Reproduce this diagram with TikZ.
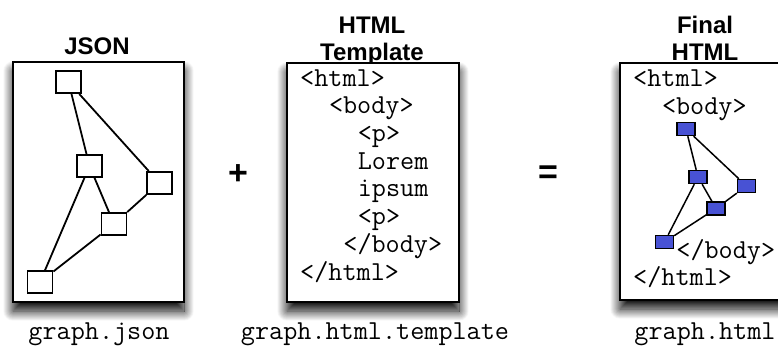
\documentclass[tikz,border=0pt]{standalone}
\usepackage{fontspec}
\setmainfont{Liberation Sans}
\usetikzlibrary{shadows.blur}
\definecolor{nodeblue}{RGB}{72,82,212}

\begin{document}
\begin{tikzpicture}[x=1pt,y=-1pt,
  panel/.style={draw=black, line width=2.2pt, fill=white, inner sep=0pt,
    blur shadow={shadow xshift=0pt, shadow yshift=-9pt, shadow blur radius=10pt,
                 shadow blur steps=20, shadow opacity=100}},
  title/.style={font=\bfseries\fontsize{24}{27}\selectfont, inner sep=0pt, align=center},
  code/.style={font=\ttfamily\fontsize{27.4}{28}\selectfont, inner sep=0pt, anchor=base west},
  fname/.style={font=\ttfamily\fontsize{27.4}{28}\selectfont, inner sep=0pt, anchor=base},
  op/.style={font=\bfseries\fontsize{34}{34}\selectfont, inner sep=0pt},
  gbox/.style={draw=black, fill=white, line width=1.8pt, inner sep=0pt,
    minimum width=25pt, minimum height=22pt},
  bbox/.style={draw=black, fill=nodeblue, line width=1.4pt, inner sep=0pt,
    minimum width=18pt, minimum height=13pt},
  gedge/.style={draw=black, line width=1.8pt},
  bedge/.style={draw=black, line width=1.5pt}]

\useasboundingbox (0,0) rectangle (778,345);
\clip (0,0) rectangle (778,345);

% ---- JSON panel ----
\node[title, anchor=base] (jsontitle) at (97,55) {JSON};
\node[panel, minimum width=171pt, minimum height=240pt] (json) at (98.5,182) {};
\node[gbox] (j1) at (68.5,82) {};
\node[gbox] (j2) at (89.5,166) {};
\node[gbox] (j3) at (159.5,183) {};
\node[gbox] (j4) at (114,224) {};
\node[gbox] (j5) at (40,282) {};
\draw[gedge] (j1) -- (j2);
\draw[gedge] (j1) -- (j3);
\draw[gedge] (j2) -- (j4);
\draw[gedge] (j2) -- (j5);
\draw[gedge] (j3) -- (j4);
\draw[gedge] (j4) -- (j5);
\node[fname] (jsonfile) at (99,339) {graph.json};

% ---- plus ----
\node[op] (plus) at (238,175) {+};

% ---- HTML template panel ----
\node[title, anchor=base] (tpltitle) at (372,60) {HTML\\Template};
\node[panel, minimum width=172pt, minimum height=239pt] (tpl) at (373,182.5) {};
\node[code] (t1) at (300,86)    {<html>};
\node[code] (t2) at (328.8,113.7) {<body>};
\node[code] (t3) at (357.6,141.4) {<p>};
\node[code] (t4) at (357.6,169.1) {Lorem};
\node[code] (t5) at (357.6,196.8) {ipsum};
\node[code] (t6) at (357.6,224.5) {<p>};
\node[code] (t7) at (343.2,252.2) {</body>};
\node[code] (t8) at (300,280)   {</html>};
\node[fname] (tplfile) at (375,339) {graph.html.template};

% ---- equals ----
\node[op] (equals) at (548,175) {=};

% ---- final HTML panel ----
\node[title, anchor=base] (fintitle) at (705,60) {Final\\HTML};
\node[panel, minimum width=190pt, minimum height=237pt] (fin) at (715,181.5) {};
\node[code] (f1) at (633,86)  {<html>};
\node[code] (f2) at (661.8,114) {<body>};
\node[code] (f3) at (676.2,258) {</body>};
\node[code] (f4) at (633,285) {</html>};
\node[bbox] (b1) at (686,129) {};
\node[bbox] (b2) at (698,177) {};
\node[bbox] (b3) at (746.5,186) {};
\node[bbox] (b4) at (716,208.5) {};
\node[bbox] (b5) at (664.5,242) {};
\draw[bedge] (b1) -- (b2);
\draw[bedge] (b1) -- (b3);
\draw[bedge] (b2) -- (b4);
\draw[bedge] (b2) -- (b5);
\draw[bedge] (b3) -- (b4);
\draw[bedge] (b4) -- (b5);
\node[fname] (finfile) at (705,339) {graph.html};

\end{tikzpicture}
\end{document}
